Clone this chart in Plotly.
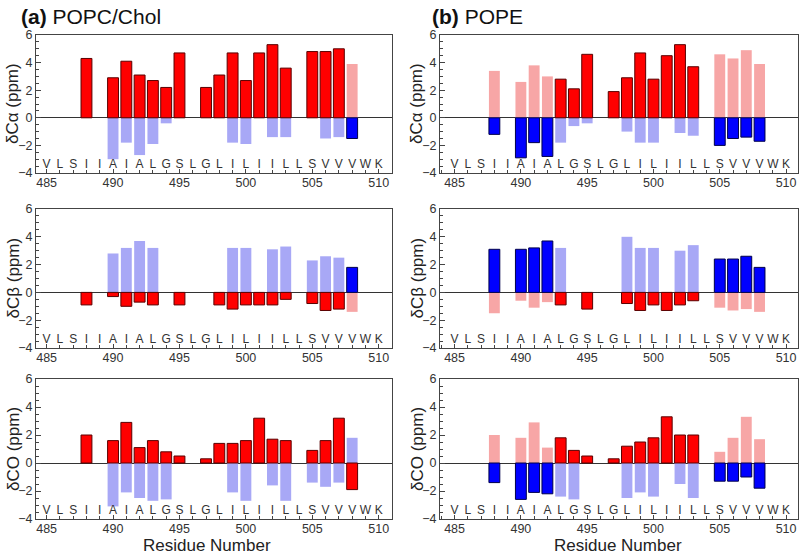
import plotly.graph_objects as go
from plotly.subplots import make_subplots

# residue sequence along the bottom of every panel
residue_numbers = list(range(485, 511))
residue_letters = ["V", "L", "S", "I", "I", "A", "I", "A", "L", "G", "S", "L", "G",
                   "L", "I", "L", "I", "I", "L", "L", "S", "V", "V", "V", "W", "K"]

# residues that carry bars
bar_residues = [488, 490, 491, 492, 493, 494, 495, 497, 498, 499, 500, 501, 502, 503, 505, 506, 507, 508]

# (a) POPC/Chol
popc_ca_red = [4.3, 2.9, 4.1, 3.1, 2.7, 2.2, 4.7, 2.2, 3.1, 4.7, 2.7, 4.7, 5.3, 3.6, 4.8, 4.8, 5.0, 3.9]
popc_ca_blue = [None, -3.0, -1.8, -2.7, -1.9, -0.4, None, None, None, -1.8, -1.9, None, -1.4, -1.4, None, -1.5, -1.4, -1.5]
popc_ca_dark = "rrrrrrrrrrrrrrrrrb"

popc_cb_red = [-0.9, -0.3, -1.0, -0.7, -0.9, None, -0.9, None, -0.9, -1.2, -0.9, -0.9, -0.9, -0.5, -0.8, -1.3, -1.2, -1.4]
popc_cb_blue = [None, 2.8, 3.2, 3.7, 3.2, None, None, None, None, 3.2, 3.2, None, 3.1, 3.3, 2.3, 2.6, 2.5, 1.8]
popc_cb_dark = "rrrrrrrrrrrrrrrrrb"

popc_co_red = [2.0, 1.6, 2.9, 1.1, 1.6, 0.8, 0.5, 0.3, 1.4, 1.4, 1.6, 3.2, 1.7, 1.6, 0.9, 1.6, 3.2, -1.9]
popc_co_blue = [None, -3.1, -2.1, -2.5, -2.7, -2.6, None, None, None, -2.1, -2.7, None, -1.6, -2.7, -1.4, -1.7, -1.4, 1.8]
popc_co_dark = "rrrrrrrrrrrrrrrrrr"

# (b) POPE
pope_ca_red = [3.4, 2.6, 3.8, 3.0, 2.8, 2.1, 4.6, 1.9, 2.9, 4.7, 2.8, 4.5, 5.3, 3.7, 4.6, 4.3, 4.9, 3.9]
pope_ca_blue = [-1.2, -2.9, -1.8, -2.8, -1.8, -0.6, -0.4, None, -1.0, -1.8, -1.8, None, -1.1, -1.3, -2.0, -1.5, -1.4, -1.7]

pope_cb_red = [-1.5, -0.6, -1.1, -0.7, -0.9, None, -1.2, None, -0.8, -1.3, -0.9, -1.3, -0.9, -0.6, -1.1, -1.3, -1.2, -1.4]
pope_cb_blue = [3.1, 3.1, 3.2, 3.7, 3.2, None, None, None, 4.0, 3.2, 3.2, None, 3.0, 3.4, 2.4, 2.4, 2.6, 1.8]

pope_co_red = [2.0, 1.8, 2.9, 1.1, 1.8, 0.9, 0.5, 0.3, 1.2, 1.5, 1.8, 3.3, 2.0, 2.0, 0.8, 1.8, 3.3, 1.7]
pope_co_blue = [-1.4, -2.6, -2.1, -2.2, -2.4, -2.6, None, None, -2.5, -2.1, -2.4, None, -1.5, -2.5, -1.3, -1.3, -1.0, -1.8]
pope_dark = "bbbbrrrrrrrrrrbbbb"

y_titles = ["δCα (ppm)", "δCβ (ppm)", "δCO (ppm)"]

RED, RED_EDGE, LIGHT_RED = "#ff0000", "#5a0000", "#f7a6a6"
BLUE, BLUE_EDGE, LIGHT_BLUE = "#0000ff", "#00004a", "#a8a8f6"
AXIS = "#444444"
FONT = "Liberation Sans, Arial, sans-serif"

fig = make_subplots(rows=3, cols=2, horizontal_spacing=0.06, vertical_spacing=0.06)


def pick(values, dark, flag):
    xs, ys = [], []
    for r, v, d in zip(bar_residues, values, dark):
        if v is not None and (d == flag):
            xs.append(r)
            ys.append(v)
    return xs, ys


def add_panel(row, col, red, blue, dark):
    specs = [
        (red, "b", LIGHT_RED, None),
        (blue, "r", LIGHT_BLUE, None),
        (red, "r", RED, RED_EDGE),
        (blue, "b", BLUE, BLUE_EDGE),
    ]
    for values, flag, color, edge in specs:
        xs, ys = pick(values, dark, flag)
        fig.add_trace(go.Bar(x=xs, y=ys, width=0.82, marker_color=color,
                             marker_line=dict(color=edge or color, width=1 if edge else 0),
                             showlegend=False), row=row, col=col)
    # one-letter residue codes just above the bottom axis
    fig.add_trace(go.Scatter(x=residue_numbers, y=[-3.4] * len(residue_numbers), mode="text",
                             text=residue_letters, textfont=dict(size=12, color="#333", family=FONT),
                             hoverinfo="skip", showlegend=False), row=row, col=col)


add_panel(1, 1, popc_ca_red, popc_ca_blue, popc_ca_dark)
add_panel(2, 1, popc_cb_red, popc_cb_blue, popc_cb_dark)
add_panel(3, 1, popc_co_red, popc_co_blue, popc_co_dark)
add_panel(1, 2, pope_ca_red, pope_ca_blue, pope_dark)
add_panel(2, 2, pope_cb_red, pope_cb_blue, pope_dark)
add_panel(3, 2, pope_co_red, pope_co_blue, pope_dark)

W, H = 800.0, 556.0
rows_px = [(35, 173), (209, 348), (379, 519)]
cols_px = [(36, 392), (440, 798)]
x_ranges = [[484.2, 511.0], [483.9, 510.9]]

for r in range(3):
    for c in range(2):
        top, bottom = rows_px[r]
        left, right = cols_px[c]
        fig.update_xaxes(domain=[left / W, right / W], range=x_ranges[c],
                         tick0=485, dtick=5, ticks="inside", ticklen=4, tickcolor=AXIS,
                         minor=dict(dtick=1, ticks="inside", ticklen=3, tickcolor=AXIS),
                         showline=True, linecolor=AXIS, linewidth=1.2, mirror=True,
                         showgrid=False, zeroline=False, ticklabelstandoff=-2,
                         tickfont=dict(size=12.5, color="#333", family=FONT),
                         automargin=False, row=r + 1, col=c + 1)
        fig.update_yaxes(domain=[1 - bottom / H, 1 - top / H], range=[-4, 6],
                         tick0=0, dtick=2, ticks="inside", ticklen=5, tickcolor=AXIS,
                         minor=dict(dtick=0.5, ticks="inside", ticklen=3, tickcolor=AXIS),
                         showline=True, linecolor=AXIS, linewidth=1.2, mirror=True,
                         showgrid=False, zeroline=True, zerolinecolor="#333", zerolinewidth=1.2,
                         tickfont=dict(size=12.5, color="#333", family=FONT),
                         automargin=False, row=r + 1, col=c + 1)
        # y-axis title
        fig.add_annotation(text=y_titles[r], textangle=-90, x=(left - 23) / W, y=1 - (top + bottom) / 2 / H,
                           xref="paper", yref="paper", xanchor="center", yanchor="middle",
                           showarrow=False, font=dict(size=17, color="#222", family=FONT))

for c, cx in enumerate([207, 618]):
    fig.add_annotation(text="Residue Number", x=cx / W, y=1 - 545 / H, xref="paper", yref="paper",
                       xanchor="center", yanchor="middle", showarrow=False,
                       font=dict(size=17, color="#222", family=FONT))

fig.add_annotation(text="<b>(a)</b> POPC/Chol", x=19 / W, y=1 - 16 / H, xref="paper", yref="paper",
                   xanchor="left", yanchor="middle", showarrow=False,
                   font=dict(size=21, color="#111", family=FONT))
fig.add_annotation(text="<b>(b)</b> POPE", x=430 / W, y=1 - 16 / H, xref="paper", yref="paper",
                   xanchor="left", yanchor="middle", showarrow=False,
                   font=dict(size=21, color="#111", family=FONT))

fig.update_layout(width=800, height=556, margin=dict(l=0, r=0, t=0, b=0),
                  barmode="overlay", plot_bgcolor="white", paper_bgcolor="white",
                  font=dict(family=FONT), showlegend=False)

# the page body has a default 8px margin; drop it so the figure fills the window
fig.write_html("out.html", config={"displayModeBar": False},
               post_script="document.body.style.margin='0';document.body.style.overflow='hidden';")
